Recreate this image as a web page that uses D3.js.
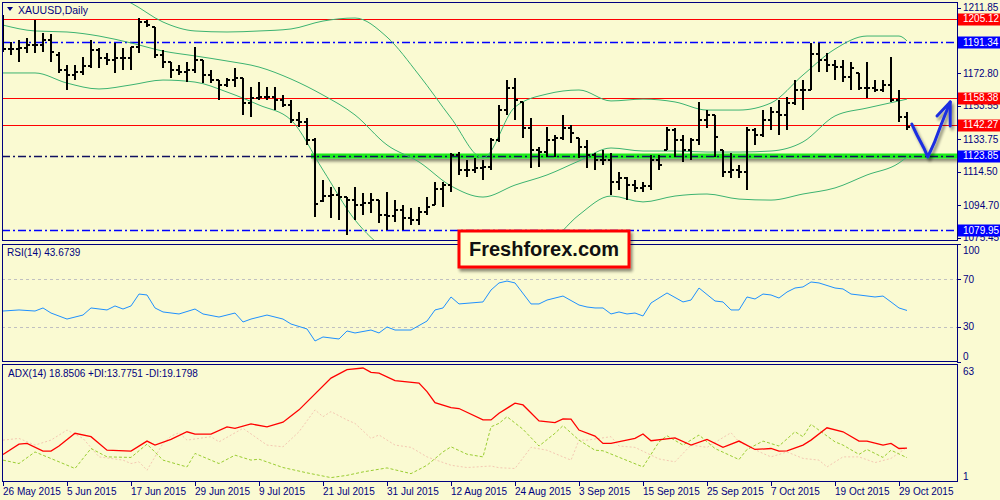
<!DOCTYPE html>
<html>
<head>
<meta charset="utf-8">
<script src="https://cdn.jsdelivr.net/npm/d3@7"></script>
<style>
body { margin: 0; background: #fafad2; }
svg text { font-family: "Liberation Sans", Arial, sans-serif; }
</style>
</head>
<body>
<svg id="chart" width="1000" height="500"></svg>
<script>
// ---- data ----
var dateLabels = ["26 May 2015", "5 Jun 2015", "17 Jun 2015", "29 Jun 2015", "9 Jul 2015", "21 Jul 2015",
  "31 Jul 2015", "12 Aug 2015", "24 Aug 2015", "3 Sep 2015", "15 Sep 2015", "25 Sep 2015",
  "7 Oct 2015", "19 Oct 2015", "29 Oct 2015"];
var dateBars = [0, 8, 16, 24, 32, 40, 48, 56, 64, 72, 80, 88, 96, 104, 112];

var open = [1190.0, 1187.3, 1187.3, 1187.9, 1189.7, 1189.7, 1192.7, 1184.0, 1174.9, 1171.9,
  1173.7, 1177.2, 1186.7, 1182.0, 1180.8, 1182.0, 1182.0, 1188.5, 1203.3, 1200.4,
  1183.7, 1179.6, 1174.9, 1173.7, 1174.9, 1180.8, 1171.9, 1168.9, 1166.0, 1168.9,
  1170.1, 1155.3, 1158.2, 1158.8, 1158.8, 1157.1, 1154.1, 1145.2, 1144.0, 1133.3,
  1097.0, 1099.9, 1100.7, 1099.5, 1097.7, 1094.8, 1096.0, 1097.7, 1088.9, 1088.3,
  1091.8, 1087.1, 1085.9, 1090.6, 1095.0, 1104.3, 1106.6, 1124.4, 1115.5, 1115.5,
  1116.7, 1117.3, 1133.3, 1151.1, 1164.2, 1155.9, 1140.5, 1127.4, 1126.2, 1133.3,
  1134.5, 1140.5, 1134.5, 1129.2, 1124.4, 1121.5, 1121.5, 1108.4, 1110.8, 1106.6,
  1104.9, 1106.0, 1121.5, 1127.4, 1139.3, 1133.3, 1127.4, 1133.3, 1145.2, 1148.2,
  1127.4, 1114.4, 1115.5, 1114.4, 1139.3, 1136.3, 1145.2, 1149.9, 1148.2, 1155.3,
  1163.0, 1163.0, 1184.3, 1180.8, 1177.8, 1176.6, 1170.7, 1173.1, 1164.2, 1164.2,
  1163.0, 1166.0, 1157.1, 1147.0];
var high = [1207.5, 1191.5, 1192.7, 1193.8, 1204.5, 1196.8, 1196.2, 1185.5, 1177.8, 1177.8,
  1182.6, 1192.7, 1187.9, 1184.9, 1190.9, 1187.9, 1188.5, 1205.7, 1204.5, 1200.4,
  1186.7, 1179.6, 1177.8, 1179.6, 1188.5, 1180.8, 1174.9, 1168.9, 1170.1, 1176.0,
  1170.1, 1164.8, 1167.7, 1164.8, 1164.8, 1160.0, 1157.1, 1149.9, 1146.4, 1134.5,
  1109.6, 1105.5, 1105.5, 1099.5, 1105.5, 1101.9, 1101.9, 1097.7, 1102.5, 1097.7,
  1094.8, 1093.0, 1093.6, 1099.5, 1108.4, 1108.4, 1125.6, 1126.2, 1121.5, 1122.7,
  1121.5, 1134.5, 1154.1, 1168.9, 1170.1, 1155.9, 1146.4, 1129.2, 1141.0, 1136.3,
  1148.2, 1142.2, 1134.5, 1133.3, 1125.6, 1127.4, 1125.6, 1114.4, 1111.4, 1109.6,
  1108.4, 1124.4, 1124.4, 1141.0, 1140.5, 1136.3, 1134.5, 1155.9, 1151.1, 1148.2,
  1127.4, 1125.6, 1118.5, 1141.0, 1140.5, 1151.1, 1152.9, 1157.1, 1158.8, 1168.9,
  1168.9, 1190.9, 1190.9, 1184.9, 1180.8, 1180.8, 1179.6, 1173.1, 1179.6, 1168.9,
  1168.9, 1182.6, 1163.0, 1149.9];
var low = [1185.5, 1183.8, 1179.6, 1184.9, 1184.9, 1185.5, 1179.6, 1173.1, 1163.0, 1168.9,
  1171.9, 1176.0, 1176.0, 1177.8, 1173.1, 1174.9, 1174.9, 1184.9, 1200.4, 1182.0,
  1176.0, 1170.1, 1171.9, 1167.7, 1173.1, 1167.1, 1167.1, 1157.1, 1164.8, 1164.8,
  1148.2, 1147.0, 1157.1, 1157.1, 1151.1, 1152.9, 1143.4, 1141.0, 1130.4, 1087.7,
  1096.6, 1087.1, 1085.9, 1077.0, 1085.9, 1088.9, 1090.0, 1084.1, 1080.0, 1084.7,
  1080.0, 1082.9, 1082.9, 1088.9, 1094.8, 1093.6, 1102.5, 1112.6, 1111.4, 1113.8,
  1109.6, 1115.5, 1132.2, 1148.2, 1145.2, 1134.5, 1116.7, 1117.3, 1123.3, 1123.3,
  1133.3, 1131.6, 1122.7, 1116.7, 1115.5, 1118.5, 1100.7, 1103.7, 1097.7, 1102.5,
  1102.5, 1103.7, 1115.5, 1127.4, 1123.3, 1120.3, 1121.5, 1130.4, 1140.5, 1123.3,
  1111.4, 1110.8, 1110.8, 1103.7, 1130.4, 1135.1, 1139.3, 1136.3, 1139.3, 1154.1,
  1151.1, 1163.0, 1173.7, 1173.7, 1168.9, 1167.7, 1163.0, 1163.0, 1158.2, 1161.8,
  1161.8, 1155.9, 1144.0, 1139.3];
var close = [1187.3, 1187.3, 1187.9, 1189.7, 1189.7, 1192.7, 1185.5, 1174.9, 1171.9, 1173.7,
  1177.2, 1186.7, 1182.0, 1180.8, 1182.0, 1182.0, 1188.5, 1203.3, 1201.5, 1183.7,
  1179.6, 1174.9, 1173.7, 1174.9, 1180.8, 1171.9, 1168.9, 1166.0, 1168.9, 1170.1,
  1155.3, 1158.2, 1158.8, 1158.8, 1157.1, 1154.1, 1145.2, 1144.0, 1133.3, 1095.4,
  1099.9, 1100.7, 1099.5, 1097.7, 1094.8, 1096.0, 1097.7, 1088.9, 1088.3, 1091.8,
  1087.1, 1085.9, 1090.6, 1093.6, 1104.3, 1106.6, 1124.4, 1115.5, 1115.5, 1116.7,
  1117.3, 1133.3, 1151.1, 1164.2, 1157.1, 1140.5, 1127.4, 1126.2, 1133.3, 1134.5,
  1140.5, 1137.5, 1129.2, 1124.4, 1121.5, 1121.5, 1108.4, 1110.8, 1106.6, 1104.9,
  1106.0, 1121.5, 1118.5, 1139.3, 1133.3, 1127.4, 1133.3, 1145.2, 1148.2, 1135.1,
  1114.4, 1115.5, 1114.4, 1139.3, 1136.3, 1145.2, 1149.9, 1148.2, 1155.3, 1163.0,
  1163.0, 1184.3, 1180.8, 1177.8, 1176.6, 1170.7, 1176.0, 1164.2, 1164.2, 1163.0,
  1166.0, 1157.1, 1147.0, 1141.0];

// Bollinger bands, read every 4 bars
var bandBars = [0, 4, 8, 12, 16, 20, 24, 28, 32, 36, 40, 44, 48, 52, 56, 60, 64, 68, 72, 76,
  80, 84, 88, 92, 96, 100, 104, 108, 112, 113];
var bandUpper = [1229.4, 1228.2, 1226.5, 1222.3, 1214.6, 1203.3, 1198.0, 1197.4, 1198.0, 1199.2,
  1203.9, 1205.7, 1194.4, 1171.9, 1146.4, 1122.7, 1152.9, 1160.6, 1163.0, 1156.5,
  1157.6, 1155.9, 1151.1, 1151.1, 1155.3, 1171.9, 1187.3, 1195.0, 1195.0, 1192.1];
var bandMiddle = [1201.5, 1198.0, 1197.4, 1195.0, 1190.9, 1186.1, 1183.2, 1180.2, 1176.6, 1169.5,
  1160.0, 1148.2, 1130.4, 1120.3, 1106.1, 1099.5, 1106.6, 1112.6, 1120.9, 1128.6,
  1126.8, 1126.8, 1126.2, 1126.2, 1126.8, 1132.2, 1147.6, 1152.3, 1156.5, 1157.6];
var bandLower = [1173.1, 1173.1, 1167.1, 1163.6, 1166.0, 1168.9, 1167.7, 1161.8, 1154.1, 1145.2,
  1115.5, 1085.9, 1068.1, 1062.2, 1069.3, 1076.4, 1065.1, 1071.1, 1088.9, 1100.1,
  1096.6, 1100.1, 1101.3, 1098.3, 1097.7, 1101.3, 1104.9, 1112.6, 1119.7, 1123.3];

var redLevels = [1205.12, 1158.38, 1142.27];
var blueLevels = [1191.34, 1123.85, 1079.95];
var supportLevel = 1123.85;
var supportFromBar = 38.5;
var priceTicks = [1211.85, 1172.80, 1153.55, 1133.75, 1114.50, 1094.70, 1075.45];

// hand drawn arrow (bar, price)
var arrowBars = [113.6, 114.25, 115.1, 115.6, 116.4, 117.25, 118.4];
var arrowPrices = [1142.8, 1136.3, 1128.6, 1123.3, 1131.6, 1142.2, 1155.9];
var arrowHeadBars = [116.75, 118.4, 118.4];
var arrowHeadPrices = [1147.6, 1155.9, 1141.6];

// RSI(14)
var rsiBars = [0, 2, 4, 5, 6, 8, 10, 11, 13, 14, 15, 16, 17, 18, 19, 20, 22, 24, 25, 27,
  29, 30, 31, 33, 35, 36, 38, 39, 40, 42, 43, 44, 46, 47, 48, 49, 51, 53, 54, 55,
  56, 57, 60, 61, 62, 63, 64, 66, 67, 68, 70, 72, 73, 74, 75, 76, 77, 78, 79, 80,
  81, 83, 85, 86, 87, 89, 90, 91, 92, 93, 94, 95, 96, 97, 98, 99, 100, 101, 102, 104,
  105, 106, 107, 109, 110, 111, 112, 113];
var rsiValues = [43.2, 44.1, 43.2, 45.8, 41.5, 36.4, 39.8, 45.8, 44.1, 47.5, 44.9, 47.5, 57.6, 56.8, 45.8, 42.4, 40.7, 44.9, 40.7, 38.1,
  41.5, 33.9, 36.4, 39.8, 36.4, 32.2, 28.0, 17.8, 21.2, 19.5, 26.3, 24.6, 27.1, 24.6, 29.7, 27.1, 27.1, 34.7, 44.1, 45.8,
  55.1, 49.2, 50.9, 61.0, 67.0, 68.6, 67.0, 49.2, 49.2, 52.5, 55.9, 48.3, 46.6, 45.8, 45.8, 40.7, 42.4, 40.7, 41.5, 39.0,
  50.0, 58.5, 50.9, 52.5, 62.7, 51.7, 50.9, 44.1, 44.1, 55.1, 53.4, 57.6, 56.8, 54.2, 59.3, 62.7, 63.6, 67.8, 67.0, 62.7,
  61.9, 57.6, 56.8, 55.1, 55.9, 50.9, 45.8, 43.67];
var rsiTicks = [100, 70, 30, 0];
var rsiLevels = [70, 30];

// ADX(14)
var adxBars = [0, 2, 3, 5, 6, 7, 9, 11, 13, 16, 18, 19, 21, 23, 24, 26, 28, 29, 31, 33,
  35, 37, 41, 43, 45, 46, 47, 49, 52, 53, 54, 56, 57, 60, 61, 62, 64, 65, 67, 69,
  70, 71, 72, 74, 75, 76, 79, 80, 81, 84, 86, 88, 90, 92, 94, 96, 97, 98, 100, 101,
  103, 105, 107, 108, 110, 111, 112, 113];
var adxValues = [15.5, 20.9, 21.3, 17.2, 17.2, 19.9, 26.6, 24.8, 17.7, 17.2, 22.5, 20.4, 23.4, 27.4, 26.2, 26.2, 30.0, 29.2, 31.5, 30.0,
  32.4, 38.9, 55.6, 60.0, 60.9, 58.6, 58.2, 54.3, 53.0, 48.5, 42.7, 40.1, 39.6, 33.6, 33.6, 37.1, 42.4, 41.5, 33.1, 32.2,
  34.1, 34.0, 28.3, 25.1, 21.3, 21.3, 23.9, 26.2, 22.7, 24.2, 20.4, 23.4, 19.2, 22.5, 18.1, 18.6, 17.2, 17.4, 20.4, 23.0,
  29.5, 27.4, 22.5, 22.5, 20.4, 21.3, 18.6, 18.85];
var plusDiBars = [0, 2, 4, 7, 9, 11, 13, 16, 18, 20, 23, 24, 27, 29, 31, 32, 35, 38, 41, 43,
  45, 47, 48, 51, 53, 55, 56, 58, 60, 61, 62, 63, 65, 67, 69, 70, 72, 74, 75, 80,
  82, 83, 85, 87, 89, 92, 93, 95, 97, 99, 100, 101, 104, 105, 107, 108, 110, 111, 113];
var plusDiValues = [12.5, 10.7, 16.8, 11.6, 8.1, 18.6, 14.2, 13.9, 20.9, 12.5, 8.9, 16.0, 10.7, 15.1, 12.5, 13.0, 8.6, 5.8, 3.3, 4.5,
  6.3, 7.7, 8.4, 5.4, 9.8, 16.8, 19.5, 15.6, 14.2, 30.0, 31.8, 35.3, 28.7, 19.9, 26.6, 30.6, 23.0, 17.7, 17.4, 8.9,
  22.1, 25.3, 20.4, 25.7, 18.6, 12.8, 18.1, 22.5, 19.9, 27.4, 24.8, 31.3, 22.1, 20.4, 15.5, 18.1, 13.9, 17.7, 13.78];
var minusDiBars = [0, 2, 4, 6, 8, 10, 12, 15, 16, 17, 18, 20, 21, 22, 23, 26, 27, 30, 33, 35,
  37, 39, 40, 41, 43, 44, 46, 47, 49, 51, 53, 56, 58, 61, 62, 64, 66, 68, 70, 71,
  72, 73, 76, 77, 79, 82, 84, 86, 88, 91, 92, 95, 96, 98, 100, 102, 103, 105, 107, 109,
  111, 113];
var minusDiValues = [23.0, 23.9, 20.4, 23.0, 28.3, 23.9, 14.2, 12.5, 10.7, 11.6, 7.2, 21.3, 25.1, 26.9, 23.0, 24.8, 22.1, 29.2, 20.4, 19.5,
  27.4, 38.9, 35.3, 38.0, 33.6, 31.8, 23.9, 25.7, 20.4, 19.2, 14.2, 9.8, 8.6, 9.4, 8.5, 8.1, 19.2, 17.7, 14.2, 12.5,
  23.0, 23.0, 24.8, 19.9, 19.2, 13.1, 11.6, 20.4, 19.2, 26.9, 22.1, 16.0, 14.2, 16.8, 13.4, 12.5, 8.9, 14.2, 14.2, 11.2,
  13.4, 19.18];
var adxTicks = [63, 1];

// ---- layout ----
var left = 2, right = 957;
var main = {top: 2, bottom: 241};
var rsiP = {top: 244, bottom: 362};
var adxP = {top: 364, bottom: 482};
var navy = "#000080";

var svg = d3.select("#chart");

svg.append("rect").attr("width", 1000).attr("height", 500).attr("fill", "#fafad2");

var defs = svg.append("defs");
var sh = defs.append("filter").attr("id", "shadow")
  .attr("filterUnits", "userSpaceOnUse")
  .attr("x", 0).attr("y", 0).attr("width", 1000).attr("height", 500);
sh.append("feGaussianBlur").attr("in", "SourceAlpha").attr("stdDeviation", 1.5);
sh.append("feOffset").attr("dx", 2).attr("dy", 3).attr("result", "off");
sh.append("feComponentTransfer").append("feFuncA").attr("type", "linear").attr("slope", 0.45);
var mrg = sh.append("feMerge");
mrg.append("feMergeNode");
mrg.append("feMergeNode").attr("in", "SourceGraphic");

function clip(id, p) {
  defs.append("clipPath").attr("id", id).append("rect")
    .attr("x", left + 1).attr("y", p.top + 1)
    .attr("width", right - left - 1).attr("height", p.bottom - p.top - 1);
}
clip("clipMain", main);
clip("clipRsi", rsiP);
clip("clipAdx", adxP);

// scales
var x = d3.scaleLinear().domain([0, 113]).range([3, 907]);
var y = d3.scaleLinear().domain([1073.43, 1215.19]).range([main.bottom, main.top]);
var yRsi = d3.scaleLinear().domain([0, 100]).range([rsiP.bottom, rsiP.top]);
var yAdx = d3.scaleLinear().domain([1, 63]).range([adxP.bottom, adxP.top]);

// ---- main panel ----
var gMain = svg.append("g").attr("clip-path", "url(#clipMain)");

// red levels
gMain.selectAll(".red").data(redLevels).enter().append("line")
  .attr("x1", left).attr("x2", right)
  .attr("y1", d => Math.round(y(d)) + 0.5).attr("y2", d => Math.round(y(d)) + 0.5)
  .attr("stroke", "#ff0000").attr("stroke-width", 1);

// green support band with shadow
gMain.append("rect")
  .attr("x", x(supportFromBar)).attr("width", right - x(supportFromBar))
  .attr("y", y(supportLevel) - 2.5).attr("height", 5)
  .attr("fill", "#1eee1e")
  .attr("filter", "url(#shadow)");

// blue dash-dot levels
gMain.selectAll(".blue").data(blueLevels).enter().append("line")
  .attr("x1", left).attr("x2", right)
  .attr("y1", d => Math.round(y(d)) + 0.5).attr("y2", d => Math.round(y(d)) + 0.5)
  .attr("stroke", d => d === supportLevel ? "#101060" : "#0000ff")
  .attr("stroke-width", 1.6)
  .attr("stroke-dasharray", "8,3,2,3");

// bollinger bands
var bandLine = function (vals) {
  return d3.line().x((d, k) => x(bandBars[k])).y(d => y(d)).curve(d3.curveMonotoneX)(vals);
};
[bandUpper, bandMiddle, bandLower].forEach(function (vals) {
  gMain.append("path").attr("d", bandLine(vals))
    .attr("fill", "none").attr("stroke", "#3cb371").attr("stroke-width", 1);
});

// OHLC bars
var idx = d3.range(open.length);
var bars = gMain.append("g").attr("stroke", "#000").attr("stroke-width", 2).attr("shape-rendering", "crispEdges");
bars.selectAll(".hl").data(idx).enter().append("line")
  .attr("x1", i => x(i)).attr("x2", i => x(i))
  .attr("y1", i => y(high[i])).attr("y2", i => y(low[i]));
bars.selectAll(".op").data(idx).enter().append("line")
  .attr("x1", i => x(i) - 3).attr("x2", i => x(i))
  .attr("y1", i => Math.round(y(open[i]))).attr("y2", i => Math.round(y(open[i])));
bars.selectAll(".cl").data(idx).enter().append("line")
  .attr("x1", i => x(i)).attr("x2", i => x(i) + 3)
  .attr("y1", i => Math.round(y(close[i]))).attr("y2", i => Math.round(y(close[i])));

// hand drawn arrow
var arrowG = gMain.append("g").attr("filter", "url(#shadow)")
  .attr("fill", "none").attr("stroke", "#1f2fe0").attr("stroke-width", 3)
  .attr("stroke-linecap", "round").attr("stroke-linejoin", "round");
arrowG.append("path").attr("d", d3.line().x((d, k) => x(arrowBars[k])).y(d => y(d))(arrowPrices));
arrowG.append("path").attr("d", d3.line().x((d, k) => x(arrowHeadBars[k])).y(d => y(d))(arrowHeadPrices));

// title
svg.append("path").attr("d", "M7,7 L13,7 L10,11 Z").attr("fill", navy);
svg.append("text").attr("x", 18).attr("y", 14).attr("font-size", 10.5).attr("fill", navy)
  .text("XAUUSD,Daily");

// ---- RSI panel ----
var gRsi = svg.append("g").attr("clip-path", "url(#clipRsi)");
gRsi.selectAll(".lvl").data(rsiLevels).enter().append("line")
  .attr("x1", left).attr("x2", right)
  .attr("y1", d => Math.round(yRsi(d)) + 0.5).attr("y2", d => Math.round(yRsi(d)) + 0.5)
  .attr("stroke", "#c0c0c0").attr("stroke-dasharray", "3,3");
gRsi.append("path")
  .attr("d", d3.line().x((d, k) => x(rsiBars[k])).y(d => yRsi(d))(rsiValues))
  .attr("fill", "none").attr("stroke", "#1e90ff").attr("stroke-width", 1);
svg.append("text").attr("x", 7).attr("y", 256).attr("font-size", 10).attr("fill", navy)
  .text("RSI(14) 43.6739");

// ---- ADX panel ----
var gAdx = svg.append("g").attr("clip-path", "url(#clipAdx)");
function adxPath(bs, vals) {
  return d3.line().x((d, k) => x(bs[k])).y(d => yAdx(d))(vals);
}
gAdx.append("path").attr("d", adxPath(minusDiBars, minusDiValues))
  .attr("fill", "none").attr("stroke", "#f4c8b2").attr("stroke-width", 1).attr("stroke-dasharray", "2,2");
gAdx.append("path").attr("d", adxPath(plusDiBars, plusDiValues))
  .attr("fill", "none").attr("stroke", "#9acd32").attr("stroke-width", 1).attr("stroke-dasharray", "3,2");
gAdx.append("path").attr("d", adxPath(adxBars, adxValues))
  .attr("fill", "none").attr("stroke", "#ff0000").attr("stroke-width", 1.3);
svg.append("text").attr("x", 8).attr("y", 377).attr("font-size", 10).attr("fill", navy)
  .text("ADX(14) 18.8506 +DI:13.7751 -DI:19.1798");

// ---- frames ----
[main, rsiP, adxP].forEach(function (p) {
  svg.append("rect").attr("x", left + 0.5).attr("y", p.top + 0.5)
    .attr("width", right - left).attr("height", p.bottom - p.top - 1)
    .attr("fill", "none").attr("stroke", navy).attr("stroke-width", 1);
});

// ---- price axis ----
var ax = svg.append("g").attr("font-size", 10).attr("fill", navy);
ax.selectAll(".pt").data(priceTicks).enter().append("line")
  .attr("x1", right).attr("x2", right + 4)
  .attr("y1", d => Math.round(y(d)) + 0.5).attr("y2", d => Math.round(y(d)) + 0.5)
  .attr("stroke", navy);
ax.selectAll(".ptx").data(priceTicks).enter().append("text")
  .attr("x", 963).attr("y", d => y(d)).attr("dy", "0.35em")
  .text(d => d.toFixed(2));

// colored level labels
function levelLabel(v, color) {
  svg.append("rect").attr("x", 958).attr("y", Math.round(y(v)) - 5.5)
    .attr("width", 42).attr("height", 12).attr("fill", color);
  svg.append("text").attr("x", 963).attr("y", y(v)).attr("dy", "0.35em")
    .attr("font-size", 10).attr("fill", "#fff").text(v.toFixed(2));
}
redLevels.forEach(v => levelLabel(v, "#ff0000"));
blueLevels.forEach(v => levelLabel(v, "#0000ff"));

// RSI axis
svg.selectAll(".rt").data(rsiTicks).enter().append("line")
  .attr("x1", right).attr("x2", right + 4)
  .attr("y1", d => Math.round(yRsi(d)) + 0.5).attr("y2", d => Math.round(yRsi(d)) + 0.5)
  .attr("stroke", navy);
svg.selectAll(".rtx").data(rsiTicks).enter().append("text")
  .attr("x", 963)
  .attr("y", d => Math.min(Math.max(yRsi(d), rsiP.top + 6), rsiP.bottom - 6))
  .attr("dy", "0.35em").attr("font-size", 10).attr("fill", navy)
  .text(d => d);

// ADX axis
svg.selectAll(".atx").data(adxTicks).enter().append("text")
  .attr("x", 963)
  .attr("y", d => Math.min(Math.max(yAdx(d), adxP.top + 7), adxP.bottom - 6))
  .attr("dy", "0.35em").attr("font-size", 10).attr("fill", navy)
  .text(d => d);

// date axis
svg.selectAll(".dt").data(dateBars).enter().append("line")
  .attr("x1", d => Math.round(x(d)) + 0.5).attr("x2", d => Math.round(x(d)) + 0.5)
  .attr("y1", adxP.bottom).attr("y2", adxP.bottom + 4)
  .attr("stroke", navy);
svg.selectAll(".dtx").data(dateBars).enter().append("text")
  .attr("x", d => x(d)).attr("y", 495)
  .attr("font-size", 10).attr("fill", navy)
  .text((d, k) => dateLabels[k]);

// ---- logo ----
var logo = svg.append("g");
logo.append("rect").attr("x", 459).attr("y", 231).attr("width", 170).attr("height", 36)
  .attr("fill", "#ffffcc").attr("stroke", "#ff0000").attr("stroke-width", 3)
  .attr("filter", "url(#shadow)");
logo.append("text").attr("x", 544).attr("y", 256).attr("text-anchor", "middle")
  .attr("font-size", 20).attr("font-weight", "bold").attr("fill", "#111")
  .text("Freshforex.com");
</script>
</body>
</html>
